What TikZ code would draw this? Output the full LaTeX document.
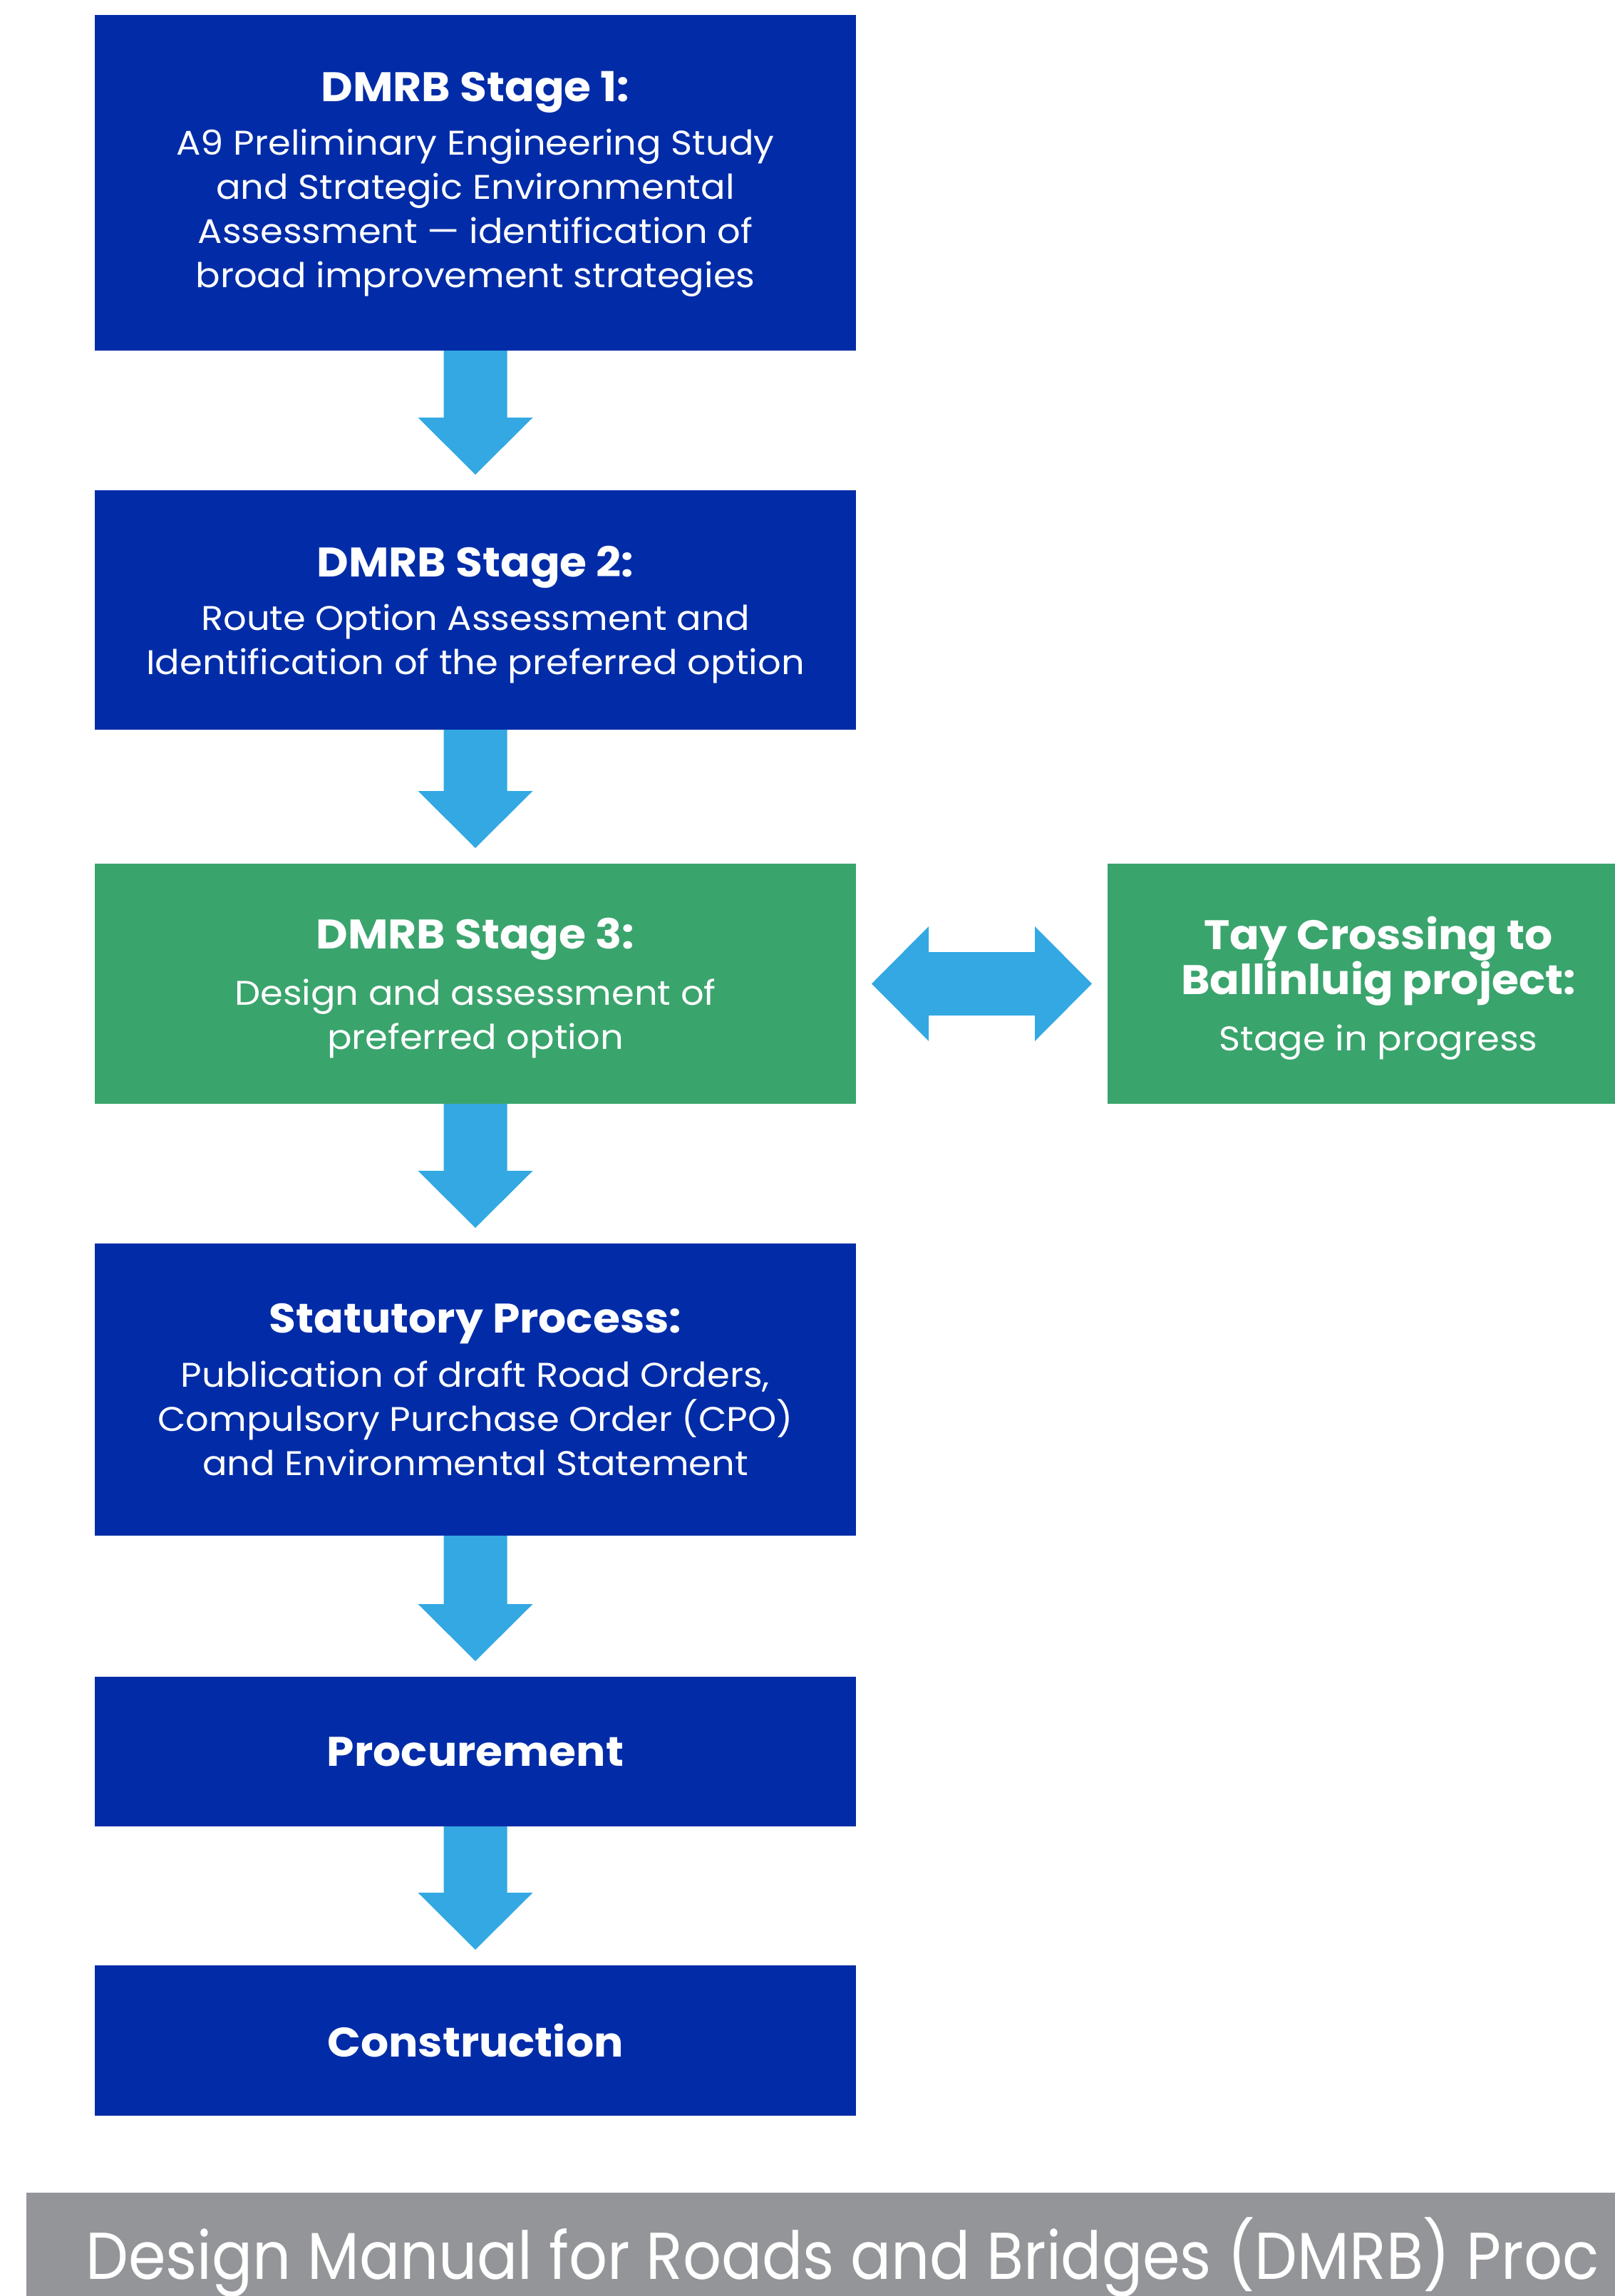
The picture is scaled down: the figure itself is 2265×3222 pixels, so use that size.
\documentclass[tikz,border=0pt]{standalone}
\usepackage{fontspec}
\setmainfont{Poppins}
\newfontfamily\bodyfont{Poppins}[FakeStretch=1.065]
\newfontfamily\headfont{Poppins}[FakeStretch=1.06]
\newfontfamily\bannerfont{Poppins}[FakeStretch=0.91]
\definecolor{dmrbblue}{HTML}{022CA7}
\definecolor{dmrbgreen}{HTML}{3AA46D}
\definecolor{arrowblue}{HTML}{33A8E2}
\definecolor{bannergrey}{HTML}{949599}
\newcommand\hdr[1]{{\headfont\fontsize{58}{62}\selectfont\bfseries #1}}
\newcommand\dnarrow[2]{%
  \fill[arrowblue] ([xshift=-44.5pt]#1.south)
    -- ([xshift=-44.5pt,yshift=102pt]#2.north)
    -- ([xshift=-80.5pt,yshift=102pt]#2.north)
    -- ([yshift=22pt]#2.north)
    -- ([xshift=80.5pt,yshift=102pt]#2.north)
    -- ([xshift=44.5pt,yshift=102pt]#2.north)
    -- ([xshift=44.5pt]#1.south) -- cycle;}
\tikzset{
  stagebox/.style={rectangle, fill=dmrbblue, text=white, inner sep=0pt, outer sep=0pt,
    minimum width=1068pt, align=center, text depth=0pt,
    font=\bodyfont\fontsize{48}{62}\selectfont},
  greenbox/.style={stagebox, fill=dmrbgreen},
}
\begin{document}
\begin{tikzpicture}[x=1pt, y=-1pt]
\useasboundingbox (0,0) rectangle (2265,3222);
\clip (-10,-10) rectangle (2280,3235);
\node[stagebox, minimum height=471pt, text depth=9pt] (b1) at (667,256.5)
  {\hdr{DMRB Stage 1:}\\[13pt]
   A9 Preliminary Engineering Study\\
   and Strategic Environmental\\
   Assessment — identification of\\
   broad improvement strategies};
\node[stagebox, minimum height=336pt] (b2) at (667,856)
  {\hdr{DMRB Stage 2:}\\[13pt]
   Route Option Assessment and\\
   Identification of the preferred option};
\node[greenbox, minimum height=337pt] (b3) at (667,1380.5)
  {\hdr{DMRB Stage 3:}\\[17pt]
   Design and assessment of\\
   preferred option};
\node[greenbox, minimum height=337pt, minimum width=760pt] (r) at (1934,1380.5)
  {\hdr{Tay Crossing to}\\
   \hdr{Ballinluig project:}\\[17pt]
   Stage in progress};
\node[stagebox, minimum height=410pt] (b4) at (667,1950)
  {\hdr{Statutory Process:}\\[14pt]
   Publication of draft Road Orders,\\
   Compulsory Purchase Order (CPO)\\
   and Environmental Statement};
\node[stagebox, minimum height=210pt] (b5) at (667,2458) {\hdr{Procurement}};
\node[stagebox, minimum height=211pt] (b6) at (667,2863.5) {\hdr{Construction}};
\dnarrow{b1}{b2}
\dnarrow{b2}{b3}
\dnarrow{b3}{b4}
\dnarrow{b4}{b5}
\dnarrow{b5}{b6}
\fill[arrowblue] ([xshift=22pt]b3.east)
  -- ([xshift=102pt,yshift=80.5pt]b3.east)
  -- ([xshift=102pt,yshift=44.5pt]b3.east)
  -- ([xshift=-102pt,yshift=44.5pt]r.west)
  -- ([xshift=-102pt,yshift=80.5pt]r.west)
  -- ([xshift=-22pt]r.west)
  -- ([xshift=-102pt,yshift=-80.5pt]r.west)
  -- ([xshift=-102pt,yshift=-44.5pt]r.west)
  -- ([xshift=102pt,yshift=-44.5pt]b3.east)
  -- ([xshift=102pt,yshift=-80.5pt]b3.east) -- cycle;
\node[rectangle, fill=bannergrey, inner sep=0pt, outer sep=0pt, minimum width=2243pt,
  minimum height=158pt, anchor=north west] (banner) at (37,3077) {};
\node[anchor=base west, inner sep=0pt, text=white, font=\bannerfont\fontsize{93}{110}\selectfont]
  (bannertext) at (120,3198) {Design Manual for Roads and Bridges (DMRB) Proc};
\end{tikzpicture}
\end{document}
